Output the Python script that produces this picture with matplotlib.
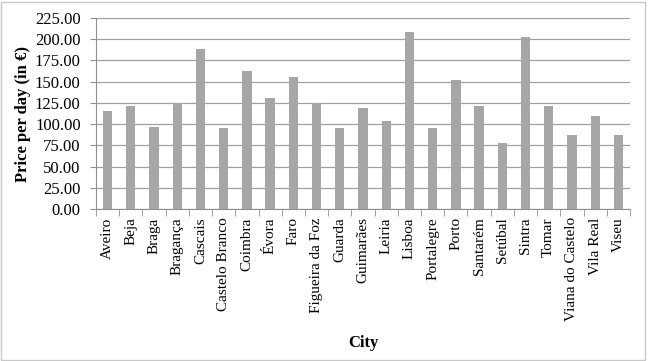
import numpy as np
import matplotlib
matplotlib.use("Agg")
from matplotlib import pyplot as plt
from matplotlib.patches import Rectangle

# data
cities = ["Aveiro", "Beja", "Braga", "Bragança", "Cascais", "Castelo Branco",
          "Coimbra", "Évora", "Faro", "Figueira da Foz", "Guarda", "Guimarães",
          "Leiria", "Lisboa", "Portalegre", "Porto", "Santarém", "Setúbal",
          "Sintra", "Tomar", "Viana do Castelo", "Vila Real", "Viseu"]
prices = [116, 121, 97, 125, 188, 95, 162, 131, 155, 125, 96, 119,
          104, 209, 95, 152, 121, 78, 203, 121, 87, 109, 87]
yticks = np.arange(0, 226, 25)

plt.rcParams["font.family"] = ["Liberation Serif", "DejaVu Serif"]

fig = plt.figure(figsize=(6.48, 3.61), dpi=100)
ax = fig.add_axes([96 / 648, 1 - 209 / 361, (630 - 96) / 648, (209 - 18) / 361])

x = np.arange(len(cities))
ax.bar(x, prices, width=0.4, color="#a6a6a6", zorder=3)

ax.set_xlim(-0.5, len(cities) - 0.5)
ax.set_ylim(0, 225)
ax.set_yticks(yticks)
ax.set_yticklabels([f"{v:.2f}" for v in yticks], fontsize=12)
ax.yaxis.grid(True, color="#a0a0a0", linewidth=0.9, zorder=0)

# category labels centred, tick marks on the boundaries
ax.set_xticks(x)
ax.set_xticklabels(cities, rotation=90, fontsize=11)
ax.tick_params(axis="x", which="major", length=0, pad=6)
ax.set_xticks(np.arange(-0.5, len(cities)), minor=True)
ax.tick_params(axis="x", which="minor", length=5, color="#909090", direction="out")
ax.tick_params(axis="y", length=4, color="#909090", pad=7)

for s in ["top", "right"]:
    ax.spines[s].set_visible(False)
for s in ["left", "bottom"]:
    ax.spines[s].set_color("#909090")

ax.set_ylabel("Price per day (in €)", fontsize=12, fontweight="bold", labelpad=3)
ax.set_xlabel("City", fontsize=12, fontweight="bold", labelpad=10)

# light frame round the whole chart
fig.patches.append(Rectangle((0.002, 0.003), 0.994, 0.992, transform=fig.transFigure,
                             fill=False, edgecolor="#c8c8c8", linewidth=1))

fig.savefig("out.png", dpi=100)
